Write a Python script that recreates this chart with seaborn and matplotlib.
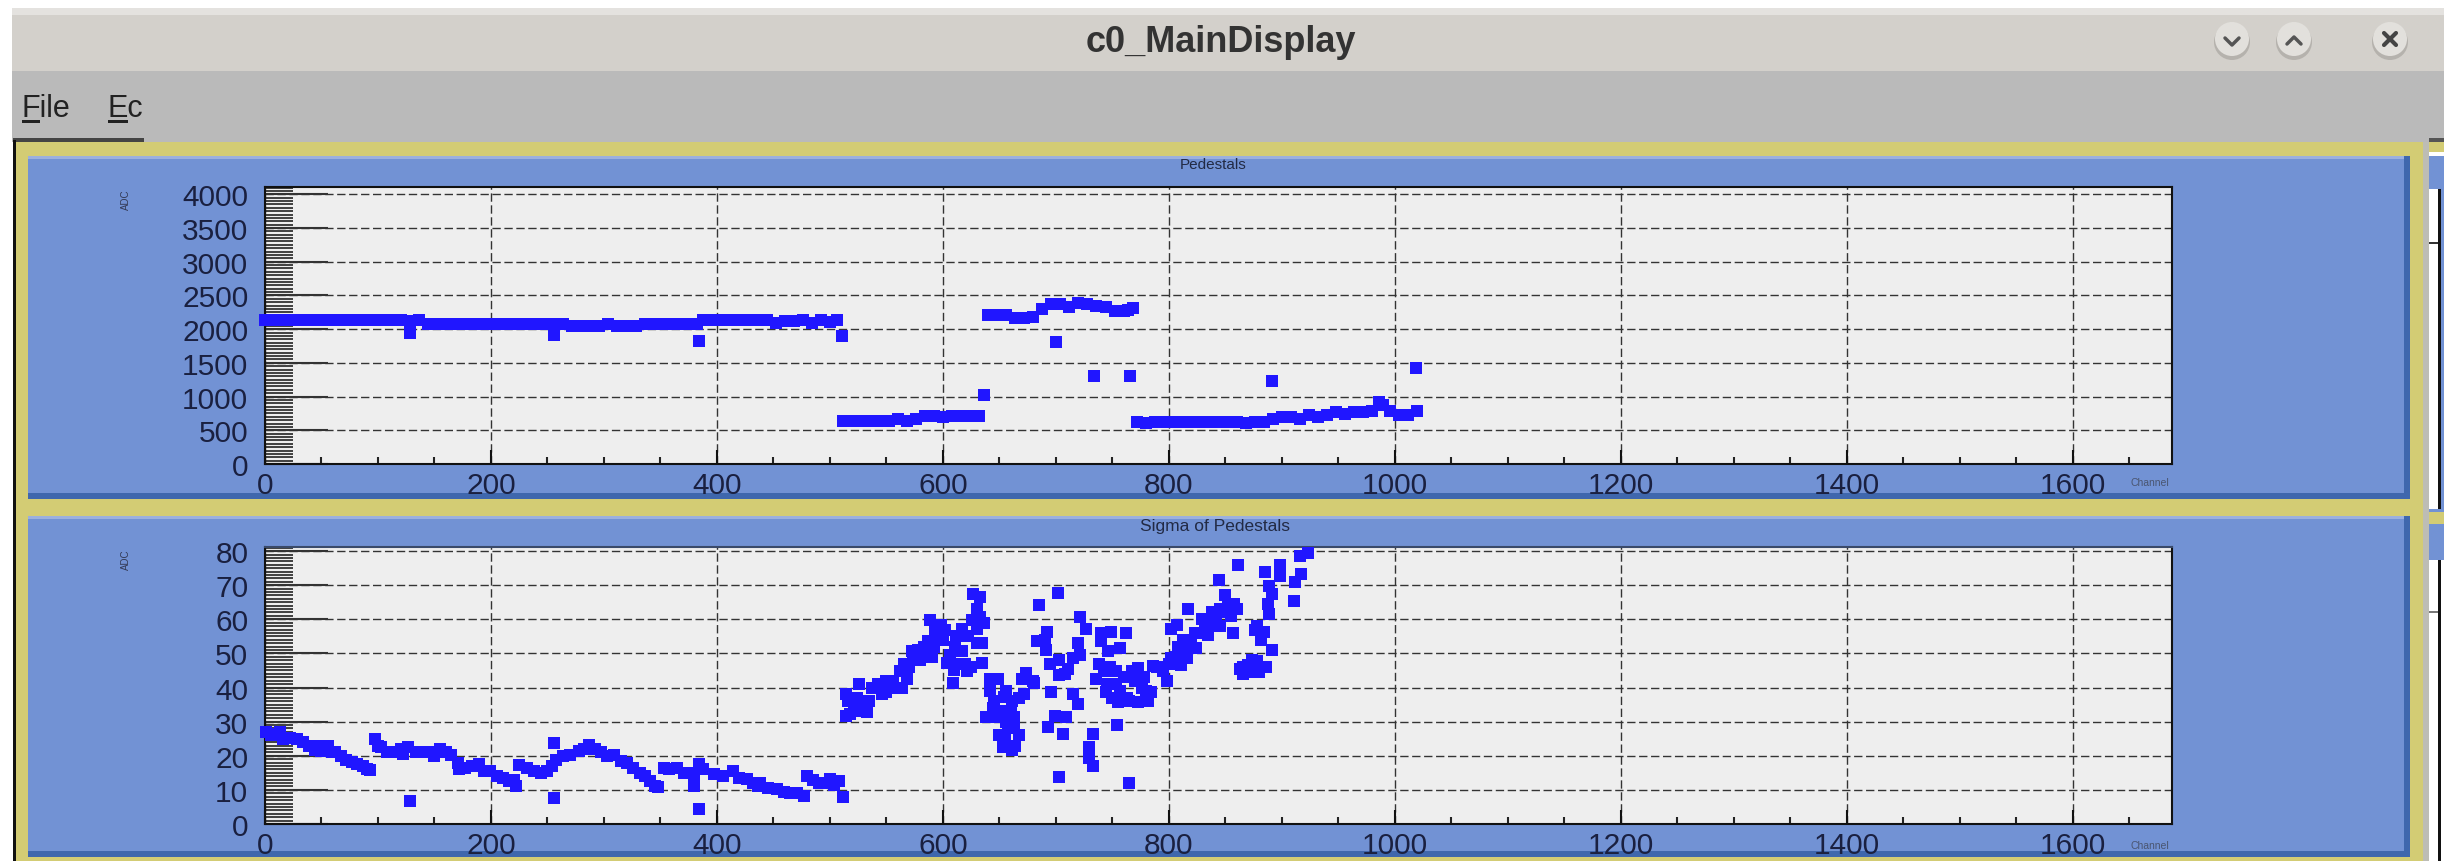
import numpy as np
import pandas as pd
import matplotlib
matplotlib.use("Agg")
import matplotlib.pyplot as plt
from matplotlib.patches import Rectangle, Circle
from matplotlib.ticker import MultipleLocator
import seaborn as sns

# pedestals
ped_channel = [0,8,16,24,32,40,48,56,64,72,80,88,96,104,112,120,128,128,136,
    144,152,160,168,176,184,192,200,208,216,224,232,240,248,256,256,264,272,280,288,296,304,312,320,328,336,344,352,360,368,376,382,
    384,388,396,404,412,420,428,436,444,452,460,468,476,484,492,500,506,511,
    512,520,528,536,544,552,560,568,576,584,592,600,608,616,624,632,636,
    640,648,656,664,672,680,688,696,700,704,712,720,728,734,736,744,752,760,764,766,768,
    772,780,788,796,804,812,820,828,836,844,852,860,868,876,884,891,892,900,908,916,924,932,940,948,956,964,972,980,986,990,996,1004,1012,1019,1020]
ped_value = [2130,2135,2130,2130,2135,2130,2130,2130,2135,2130,2130,2130,2135,2130,2130,2130,1950,2125,2130,
    2070,2075,2070,2070,2075,2070,2070,2075,2070,2070,2075,2070,2070,2070,1920,2075,2070,2050,2045,2050,2045,2070,2050,2045,2050,2070,2075,2070,2070,2075,2070,2070,
    1830,2130,2130,2135,2130,2130,2130,2135,2130,2090,2125,2125,2130,2095,2130,2100,2130,1903,
    642,642,642,642,642,645,665,642,660,712,712,690,712,712,712,712,1030,
    2210,2210,2210,2170,2170,2180,2300,2370,1810,2375,2330,2390,2375,1310,2340,2330,2275,2275,2280,1310,2310,
    620,610,630,625,625,625,620,625,625,625,620,625,610,625,630,1230,665,690,700,660,720,700,720,770,745,770,775,780,920,870,780,720,720,1425,790]

# sigma of pedestals
sig_channel = [1,9,22,34,44,56,62,72,81,93,97,103,114,127,128,140,155,165,177,189,199,211,222,
    225,238,250,256,256,258,270,287,297,309,320,332,341,348,353,365,380,380,384,384,397,414,427,436,
    438,453,465,477,480,490,500,508,512,
    514,514,521,518,531,533,526,537,550,550,564,568,562,573,580,574,587,587,595,589,598,602,
    604,609,606,611,617,617,621,626,630,633,627,633,635,635,
    642,649,642,645,638,647,654,661,667,663,663,650,667,653,661,670,674,680,
    685,702,692,683,691,703,711,703,681,696,715,720,699,709,693,706,721,727,720,721,715,733,729,729,733,703,765,754,
    740,749,740,762,757,746,736,743,744,755,753,767,773,782,784,773,753,776,
    786,795,798,802,811,816,813,824,835,802,807,817,829,838,850,858,855,844,857,
    863,870,878,876,886,876,884,882,891,889,888,891,889,885,898,898,912,917,911,916,923,861,
    5,13,16,28,39,50,50,59,67,77,87,90,100,108,120,122,134,147,150,160,
    171,172,183,194,205,216,220,232,244,254,264,278,282,292,303,315,326,336,345,358,
    371,375,388,405,420,432,445,459,471,485,495,504,
    516,524,527,535,543,546,556,556,570,578,583,592,593,600,590,566,610,614,612,620,625,630,622,636,630,
    644,652,656,660,656,658,672,664,655,690,695,708,
    738,745,748,760,763,770,778,750,757,765,780,
    790,800,806,808,815,820,823,828,832,835,842,845,848,852,860,845,
    866,870,873,880,882,866,874,878]
sig_value = [27,26.3,25.3,24.1,21.7,22.9,21.2,18.9,17.7,15.8,25,22.5,21,22.5,6.8,21.2,21.9,20.3,16.5,17.7,15.5,13.6,11.2,
    17.4,15.5,15.5,23.8,7.6,18.9,20.3,23.1,21.2,20.3,17.9,15,12.7,10.8,16.5,16.5,14.1,11.2,17.7,4.4,14.6,15.5,13.1,11.2,
    12.1,10.2,9.2,8.3,14,12.1,13.1,12.6,7.8,
    38,31.8,35.2,32.3,34.2,32.8,41,40,41.9,38.6,40,42.4,44.8,50.6,48.2,48.7,50,53.5,55.4,59.7,58.3,56.8,
    47.2,41.4,49.6,52,50.6,57.3,44.8,59.7,57.3,60.7,67.4,66.4,53,47.2,
    42.4,42.4,39,36.2,31.3,31.3,37.1,36.2,37,31.3,29,26,26,22.7,21.7,42.4,44.3,42,
    64.3,67.7,56.3,53.5,51,48.2,45.3,43.8,41.4,38.8,38,35.2,31.8,31.3,28.5,26.5,60.7,57.3,53,49.6,48.7,26.5,22.7,19.3,16.9,13.8,12.1,29,
    55.9,56.3,53.5,55.9,51.5,50.6,42.4,44.8,38.6,35.7,44.8,44.8,35.7,36.2,38.6,45.8,41,40,
    46.3,44.8,41.9,48.7,46.7,48.7,53.9,51.5,55.4,57.3,58.3,63,60.2,62,67,64.5,61,71.5,56,
    45.3,46.7,47.7,44.8,46,56.8,56.3,54,51,61.6,64.5,67.4,69.8,74,76,72.7,70.8,73.2,65.3,78.5,79.4,76,
    26,27,25,24.8,23,21.5,23,21,20,18.3,17,16,23,21,22,20.5,21,21,20,21,
    18,16,17,15.5,14,12.5,13,16.5,15,17,20,21.5,22,22,20,18.5,16.5,14,11,16,
    15,15,16,14,13.5,12,10.5,9.5,9,13,12,11.5,
    36,37,33,36,41,38,42,40,46,51,52,52,57,54,49,47,45,47,55,47,46,53,55,59,63,
    34,33,39,33,30,28,38,23,26,54,47,44,
    47,41,46,43,37,42,43,37,39,36,39,
    46,47,49,52,51,54,56,56,59,58,60,63,62,64,63,58,
    44,44.5,45,44.5,46,46,48,58]

x_ticks = [0,200,400,600,800,1000,1200,1400,1600]
ped_ticks = [0,500,1000,1500,2000,2500,3000,3500,4000]
sig_ticks = [0,10,20,30,40,50,60,70,80]

W, H = 2455, 862
BLUE = "#7292d4"
YELLOW = "#d3cc74"
MARK = "#2016ff"

sns.set_theme(style="ticks")
plt.rcParams["font.family"] = ["Liberation Sans", "DejaVu Sans"]

fig = plt.figure(figsize=(W / 100, H / 100), dpi=100, facecolor="white")

# window around the plots, in pixels
bg = fig.add_axes([0, 0, 1, 1], zorder=0)
bg.set_xlim(0, W)
bg.set_ylim(H, 0)
bg.axis("off")

def box(x0, y0, x1, y1, color):
    bg.add_patch(Rectangle((x0, y0), x1 - x0, y1 - y0, facecolor=color, edgecolor="none"))

box(12, 9, 2444, 16, "#e4e2df")
box(12, 16, 2444, 72, "#d3d0cb")
box(12, 72, 2444, 143, "#bababa")
box(13, 139, 144, 143, "#444444")
box(13, 141, 16, H, "#111111")
box(16, 143, 2423, H, YELLOW)
box(2423, 143, 2429, H, "#bdbdb5")
for top, bottom in [(157, 500), (517, 858)]:
    box(28, top, 2410, bottom, BLUE)
    box(28, top, 2410, top + 3, "#9bb0dd")
    box(28, bottom - 6, 2410, bottom, "#3f67ad")
    box(2404, top, 2410, bottom, "#3f67ad")

# edge of the next window
box(2429, 139, 2444, 143, "#555555")
box(2429, 143, 2444, 153, YELLOW)
box(2429, 157, 2444, 513, BLUE)
box(2429, 190, 2438, 510, "white")
box(2438, 190, 2441, 510, "#111111")
box(2429, 243, 2438, 245, "#333333")
box(2429, 513, 2444, 525, YELLOW)
box(2429, 525, 2444, 561, BLUE)
box(2429, 561, 2438, H, "white")
box(2438, 561, 2441, H, "#111111")
box(2429, 612, 2438, 614, "#777777")

for cx in [2232, 2294, 2390]:
    bg.add_patch(Circle((cx, 43), 18, facecolor="#b5b2ad", edgecolor="none"))
    bg.add_patch(Circle((cx, 40), 17, facecolor="#e2e0dc", edgecolor="none"))
bg.plot([2225, 2232, 2239], [39, 46, 39], color="#555555", lw=2.5)
bg.plot([2287, 2294, 2301], [45, 38, 45], color="#555555", lw=2.5)
bg.plot([2384, 2396], [34, 46], color="#444444", lw=3)
bg.plot([2384, 2396], [46, 34], color="#444444", lw=3)

bg.text(1221, 43, "c0_MainDisplay", fontsize=26, fontweight="bold", color="#333333", ha="center", va="center")
bg.text(22, 117, "File", fontsize=22, color="#222222", va="baseline")
bg.text(108, 117, "Ec", fontsize=22, color="#222222", va="baseline")
box(22, 121, 40, 124, "#222222")
box(108, 121, 128, 124, "#222222")


def panel(y_top, y_bottom, channel, value, yticks, ymax, yminor, title, title_size, title_x, title_y, ylab_y, chan_y):
    ax = fig.add_axes([265 / W, (H - y_bottom) / H, (2172 - 265) / W, (y_bottom - y_top) / H], zorder=2)
    ax.set_facecolor("#eeeeee")
    data = pd.DataFrame({"channel": channel, "value": value})
    sns.scatterplot(data=data, x="channel", y="value", ax=ax, marker="s", s=82, color=MARK,
                    linewidth=0, clip_on=False, zorder=5)
    ax.set_xlim(0, 1688)
    ax.set_ylim(0, ymax)
    ax.set_xticks(x_ticks)
    ax.set_yticks(yticks)
    ax.xaxis.set_minor_locator(MultipleLocator(50))
    ax.yaxis.set_minor_locator(MultipleLocator(yminor))
    ax.grid(True, which="major", color="#333333", lw=1.0, linestyle=(0, (6, 2.6)))
    ax.tick_params(axis="x", which="major", direction="in", length=10, width=1.5, color="#111111",
                   pad=5, labelsize=21.5, labelcolor="#1a2040")
    ax.tick_params(axis="x", which="minor", direction="in", length=5, width=1.5, color="#222222")
    ax.tick_params(axis="y", which="major", direction="in", length=45, width=1.5, color="#333333",
                   pad=12, labelsize=21.5, labelcolor="#1a2040")
    ax.tick_params(axis="y", which="minor", direction="in", length=20, width=1.2, color="#222222")
    ax.set_xlabel("")
    ax.set_ylabel("")
    for name in ax.spines:
        ax.spines[name].set_visible(True)
        ax.spines[name].set_linewidth(1.5)
        ax.spines[name].set_color("#111111")
    bg.text(title_x, title_y, title, fontsize=title_size, color="#222a44", ha="center", va="center")
    bg.text(126, ylab_y, "ADC", fontsize=7, rotation=90, color="#333a55", ha="center", va="center")
    bg.text(2150, chan_y, "Channel", fontsize=7.5, color="#4a5570", ha="center", va="center")
    return ax


ax1 = panel(188, 465, ped_channel, ped_value, ped_ticks, 4108, 50, "Pedestals", 11, 1213, 165, 200, 483)
ax2 = panel(548, 825, sig_channel, sig_value, sig_ticks, 81.2, 1, "Sigma of Pedestals", 12.5, 1215, 527, 560, 846)
ax2.spines["top"].set_color("#3a4a6a")

fig.savefig("out.png", dpi=100, facecolor="white")
